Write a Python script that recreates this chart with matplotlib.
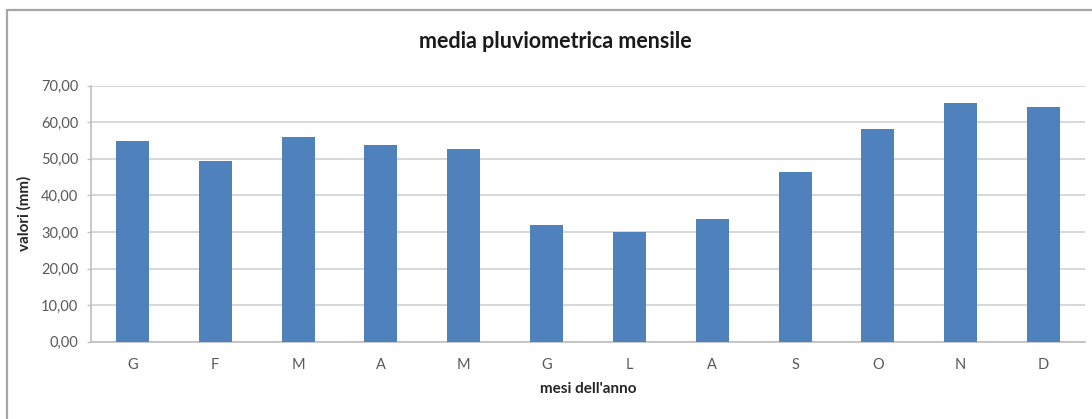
import matplotlib
matplotlib.use("Agg")
import matplotlib.pyplot as plt
from matplotlib.patches import Rectangle
from matplotlib.ticker import FuncFormatter, MultipleLocator

months = ["G", "F", "M", "A", "M", "G", "L", "A", "S", "O", "N", "D"]
values = [54.9, 49.5, 56.0, 53.8, 52.7, 32.0, 29.9, 33.5, 46.4, 58.2, 65.2, 64.1]
title = "media pluviometrica mensile"
xlabel = "mesi dell'anno"
ylabel = "valori (mm)"

plt.rcParams['font.family'] = ['Lato', 'DejaVu Sans']

W, H = 1092, 419
fig = plt.figure(figsize=(W / 100, H / 100), dpi=100)
fig.patch.set_facecolor("white")

# outer chart border (left and top visible)
fig.patches.append(Rectangle((7 / W, -0.1), 1.2, (H - 10) / H + 0.1, transform=fig.transFigure,
                             fill=False, edgecolor="#A6A6A6", linewidth=1.6))

ax = fig.add_axes([91 / W, 1 - 341.7 / H, (1085 - 91) / W, (341.7 - 85.7) / H])
x = range(len(months))
ax.bar(x, values, width=0.4, color="#4F81BD", zorder=3)

ax.set_xlim(-0.5, len(months) - 0.5)
ax.set_ylim(0, 70)
ax.yaxis.set_major_locator(MultipleLocator(10))
ax.yaxis.set_major_formatter(FuncFormatter(lambda v, p: f"{v:.2f}".replace(".", ",")))
ax.set_xticks(list(x))
ax.set_xticklabels(months)

ax.grid(axis="y", color="#D4D4D4", linewidth=1.3, zorder=0)
for s in ["top", "right"]:
    ax.spines[s].set_visible(False)
ax.spines["left"].set_color("#BFBFBF")
ax.spines["bottom"].set_color("#BFBFBF")
ax.spines["left"].set_linewidth(1.2)
ax.spines["bottom"].set_linewidth(1.2)

ax.tick_params(axis="y", length=3, width=1, color="#BFBFBF", pad=6, labelsize=10.5, labelcolor="#595959")
ax.tick_params(axis="x", length=0, pad=12, labelsize=10.5, labelcolor="#595959")

ax.set_xlabel(xlabel, fontsize=11, fontweight="bold", color="#262626", labelpad=7)
ax.set_ylabel(ylabel, fontsize=11, fontweight="bold", color="#262626", labelpad=7)

fig.text(555 / W, 1 - 42 / H, title, ha="center", va="center",
         fontsize=15.5, fontweight="bold", color="#1A1A1A")

fig.savefig("out.png", dpi=100, facecolor="white")
